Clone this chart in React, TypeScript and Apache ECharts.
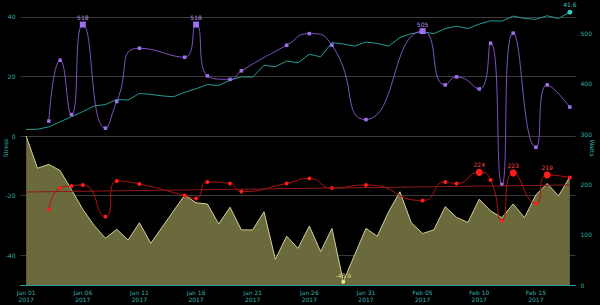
import { useEffect, useRef } from "react";
import * as echarts from "echarts";

const dates = [
  "Jan 01", "Jan 02", "Jan 03", "Jan 04", "Jan 05", "Jan 06", "Jan 07", "Jan 08", "Jan 09", "Jan 10",
  "Jan 11", "Jan 12", "Jan 13", "Jan 14", "Jan 15", "Jan 16", "Jan 17", "Jan 18", "Jan 19", "Jan 20",
  "Jan 21", "Jan 22", "Jan 23", "Jan 24", "Jan 25", "Jan 26", "Jan 27", "Jan 28", "Jan 29", "Jan 30",
  "Jan 31", "Feb 01", "Feb 02", "Feb 03", "Feb 04", "Feb 05", "Feb 06", "Feb 07", "Feb 08", "Feb 09",
  "Feb 10", "Feb 11", "Feb 12", "Feb 13", "Feb 14", "Feb 15", "Feb 16", "Feb 17", "Feb 18",
];
const year = "2017";

// left axis (Stress)
const fitness = [
  2.2, 2.3, 3.1, 4.8, 6.5, 8.2, 10.1, 10.6, 12.3, 12.1, 14.3, 14.0, 13.5, 13.2, 14.7, 15.9, 17.3, 17.0,
  18.8, 19.9, 19.8, 23.8, 23.3, 25.2, 24.6, 27.5, 26.6, 31.4, 30.9, 30.2, 31.6, 31.1, 30.2, 33.1, 34.4,
  35.0, 34.4, 36.1, 36.9, 36.1, 37.6, 38.7, 38.6, 40.3, 39.5, 39.2, 40.4, 39.5, 41.6,
];
const form = [
  0, -10.8, -9.5, -11.6, -18, -24.6, -30, -34.3, -31.3, -34.9, -29.1, -36.0, -30.6, -25.2, -19.8, -22.4,
  -22.8, -29.5, -23.9, -31.5, -31.5, -25.4, -41.4, -33.6, -37.7, -30.2, -38.8, -31.0, -48.9, -39.9, -31.0,
  -33.6, -25.4, -18.7, -29.1, -32.7, -31.5, -23.7, -27.3, -29.0, -21.2, -25.1, -27.4, -22.8, -27.4, -19.8,
  -15.9, -20.1, -13.7,
];

// right axis (Watts)
const maxPower = [
  null, null, 326, 447, 339, 518, null, 312, 365, null, 471, null, null, null, 453, 518, 416, null, 409,
  426, null, null, null, 477, null, 500, null, 477, null, null, 329, null, null, null, null, 505, null, 398,
  414, null, 390, 481, 200, 501, null, 274, 398, null, 354,
];
const avgPower = [
  null, null, 150, 193, 197, 199, null, 136, 207, null, 201, null, null, null, 178, 172, 205, null, 202,
  186, null, null, null, 202, null, 212, null, 193, null, null, 199, null, null, null, null, 168, null, 205,
  202, null, 224, 209, 128, 223, null, 162, 219, null, 214,
];
const avgTrend = [185, 199];

const axisColor = "#38b2ae";

function topIndices(arr: (number | null)[], n: number): number[] {
  return arr
    .map((v, i) => ({ v, i }))
    .filter((d) => d.v != null)
    .sort((a, b) => (b.v as number) - (a.v as number))
    .slice(0, n)
    .map((d) => d.i);
}

function highlight(arr: (number | null)[], bigSize: number, labelColor: string) {
  const top = topIndices(arr, 3);
  return arr.map((v, i) =>
    v == null
      ? null
      : top.includes(i)
      ? {
          value: v,
          symbolSize: bigSize,
          label: { show: true, position: "top", distance: 1, color: labelColor, fontSize: 6 },
        }
      : v
  );
}

export default function App() {
  const ref = useRef<HTMLDivElement>(null);
  useEffect(() => {
    if (!ref.current) return;
    const chart = echarts.init(ref.current, null, { renderer: "svg" });
    chart.setOption({
      animation: false,
      backgroundColor: "#000",
      textStyle: { fontFamily: "DejaVu Sans" },
      grid: { left: 20.5, right: 24.5, top: 11, bottom: 20, containLabel: false, outerBoundsMode: "none" },
      xAxis: {
        type: "category",
        data: dates,
        boundaryGap: true,
        axisLine: { onZero: false, lineStyle: { color: "#2a9c99" } },
        axisTick: { alignWithLabel: true, interval: 4, length: 2, lineStyle: { color: "#2a9c99" } },
        axisLabel: {
          interval: 4,
          color: axisColor,
          fontSize: 6,
          lineHeight: 7,
          margin: 4,
          formatter: (v: string) => v + "\n" + year,
        },
        splitLine: { show: false },
      },
      yAxis: [
        {
          type: "value",
          min: -50,
          max: 42,
          name: "Stress",
          nameLocation: "middle",
          nameGap: 12,
          nameMoveOverlap: false,
          nameTextStyle: { color: axisColor, fontSize: 6 },
          axisLine: { show: false },
          axisTick: { show: false },
          axisLabel: { color: axisColor, fontSize: 6, margin: 5, showMinLabel: false, showMaxLabel: false },
          splitLine: { show: true, showMinLine: false, showMaxLine: false, lineStyle: { color: "#3a3a3a", width: 1 } },
        },
        {
          type: "value",
          min: 0,
          max: 545,
          position: "right",
          name: "Watts",
          nameLocation: "middle",
          nameGap: 14,
          nameRotate: -90,
          nameMoveOverlap: false,
          nameTextStyle: { color: axisColor, fontSize: 6 },
          axisLine: { show: false },
          axisTick: { show: false },
          axisLabel: { color: axisColor, fontSize: 6, margin: 5, showMaxLabel: false },
          splitLine: { show: false },
        },
      ],
      series: [
        {
          name: "Form",
          type: "line",
          yAxisIndex: 0,
          data: form,
          symbol: "none",
          lineStyle: { color: "#d2d296", width: 1 },
          areaStyle: { color: "#6b6a3d", opacity: 1, origin: "start" },
          markPoint: {
            symbol: "circle",
            symbolSize: 4,
            itemStyle: { color: "#e6e68e" },
            label: { show: true, position: "top", distance: 1, color: "#d6d68a", fontSize: 6 },
            data: [{ type: "min" }],
          },
          z: 1,
        },
        {
          name: "Fitness",
          type: "line",
          yAxisIndex: 0,
          data: fitness,
          symbol: "none",
          lineStyle: { color: "#1f9d96", width: 1 },
          markPoint: {
            symbol: "circle",
            symbolSize: 5,
            itemStyle: { color: "#2cd2c8" },
            label: { show: true, position: "top", distance: 2, color: "#3cc8c0", fontSize: 6 },
            data: [{ type: "max" }],
          },
          z: 2,
        },
        {
          name: "Avg Power",
          type: "line",
          yAxisIndex: 1,
          data: highlight(avgPower, 7, "#ff4646"),
          connectNulls: true,
          smooth: 0.6,
          symbol: "circle",
          symbolSize: 4,
          itemStyle: { color: "#ff1c1c" },
          lineStyle: { color: "#b01212", width: 1 },
          markLine: {
            silent: true,
            symbol: ["none", "none"],
            label: { show: false },
            lineStyle: { color: "#8e1a1a", type: "solid", width: 1 },
            data: [[{ coord: [0, avgTrend[0]] }, { coord: [dates.length - 1, avgTrend[1]] }]],
          },
          z: 3,
        },
        {
          name: "Max Power",
          type: "line",
          yAxisIndex: 1,
          data: highlight(maxPower, 6, "#b89ae8"),
          connectNulls: true,
          smooth: 0.6,
          symbol: "rect",
          symbolSize: 3.5,
          itemStyle: { color: "#a26ef0" },
          lineStyle: { color: "#7d52bf", width: 1 },
          z: 4,
        },
      ],
    });
    return () => chart.dispose();
  }, []);
  return <div ref={ref} style={{ position: "fixed", left: 0, top: 0, width: 600, height: 305 }} />;
}
